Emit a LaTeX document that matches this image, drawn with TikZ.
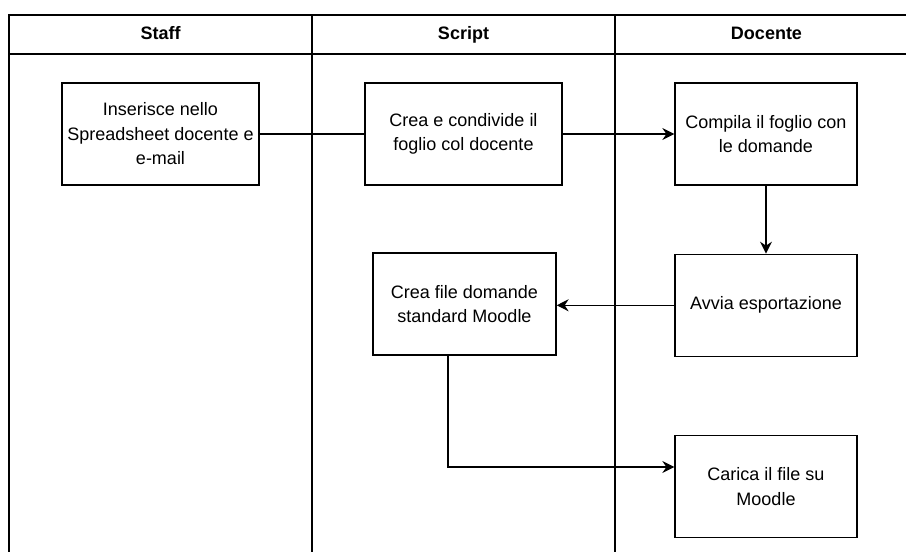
\documentclass[tikz,border=0pt]{standalone}
\usepackage{fontspec}
\setmainfont{Liberation Sans}
\usepackage{tikz}
\usetikzlibrary{arrows.meta, positioning, calc}
\tikzset{
  %% Activity box inside a lane
  actbox/.style={
    rectangle, draw=black, fill=white,
    minimum width=#1, minimum height=102pt,
    align=center, inner sep=2pt, line width=1.3pt,
    font=\fontsize{18}{24.5}\selectfont
  },
  actbox/.default=197pt,
  %% Lane title
  lanehdr/.style={font=\fontsize{18}{22}\selectfont\bfseries,
                  text height=13pt, text depth=4pt},
  %% Lane frame lines
  laneline/.style={draw=black, line width=1.5pt},
  %% Arrow
  arr/.style={-{Stealth[length=12pt,width=12pt,inset=4pt]},
              draw=black, line width=1.3pt},
  plainline/.style={draw=black, line width=1.3pt},
}

\begin{document}
\begin{tikzpicture}[x=1pt, y=-1pt]
  \useasboundingbox (0,0) rectangle (906,552);
  \clip (0,0) rectangle (906,552);

  %% swimlane frame
  \draw[laneline] (9,560) -- (9,15) -- (918,15) -- (918,560);
  \draw[laneline] (9,54) -- (918,54);
  \foreach \x in {312, 615}
    \draw[laneline] (\x,15) -- (\x,560);

  \node[lanehdr] (hstaff)   at (160.5,35) {Staff};
  \node[lanehdr] (hscript)  at (463.5,35) {Script};
  \node[lanehdr] (hdocente) at (766.5,35) {Docente};

  %% activities
  \node[actbox] (ins) at (160.5,134)
       {Inserisce nello\\Spreadsheet docente e\\e-mail};
  \node[actbox] (crea) at (463.5,134)
       {Crea e condivide il\\foglio col docente};
  \node[actbox=182pt] (comp) at (766,134)
       {Compila il foglio con\\le domande};
  \node[actbox=182pt, below=68pt of comp] (avvia)
       {Avvia esportazione};
  \node[actbox=183pt] (file) at (464.5,304)
       {Crea file domande\\standard Moodle};
  \node[actbox=182pt, below=78pt of avvia] (carica)
       {Carica il file su\\Moodle};

  \coordinate (bend) at (448,467);

  \draw[plainline] (ins) -- (crea);
  \foreach \a/\b in {crea/comp, comp/avvia}
    \draw[arr] (\a) -- (\b);
  \draw[arr] (avvia.west) -- (avvia.west -| file.east);
  \draw[arr] (file.south -| bend) -- (bend) -- (carica.west |- bend);

\end{tikzpicture}
\end{document}
